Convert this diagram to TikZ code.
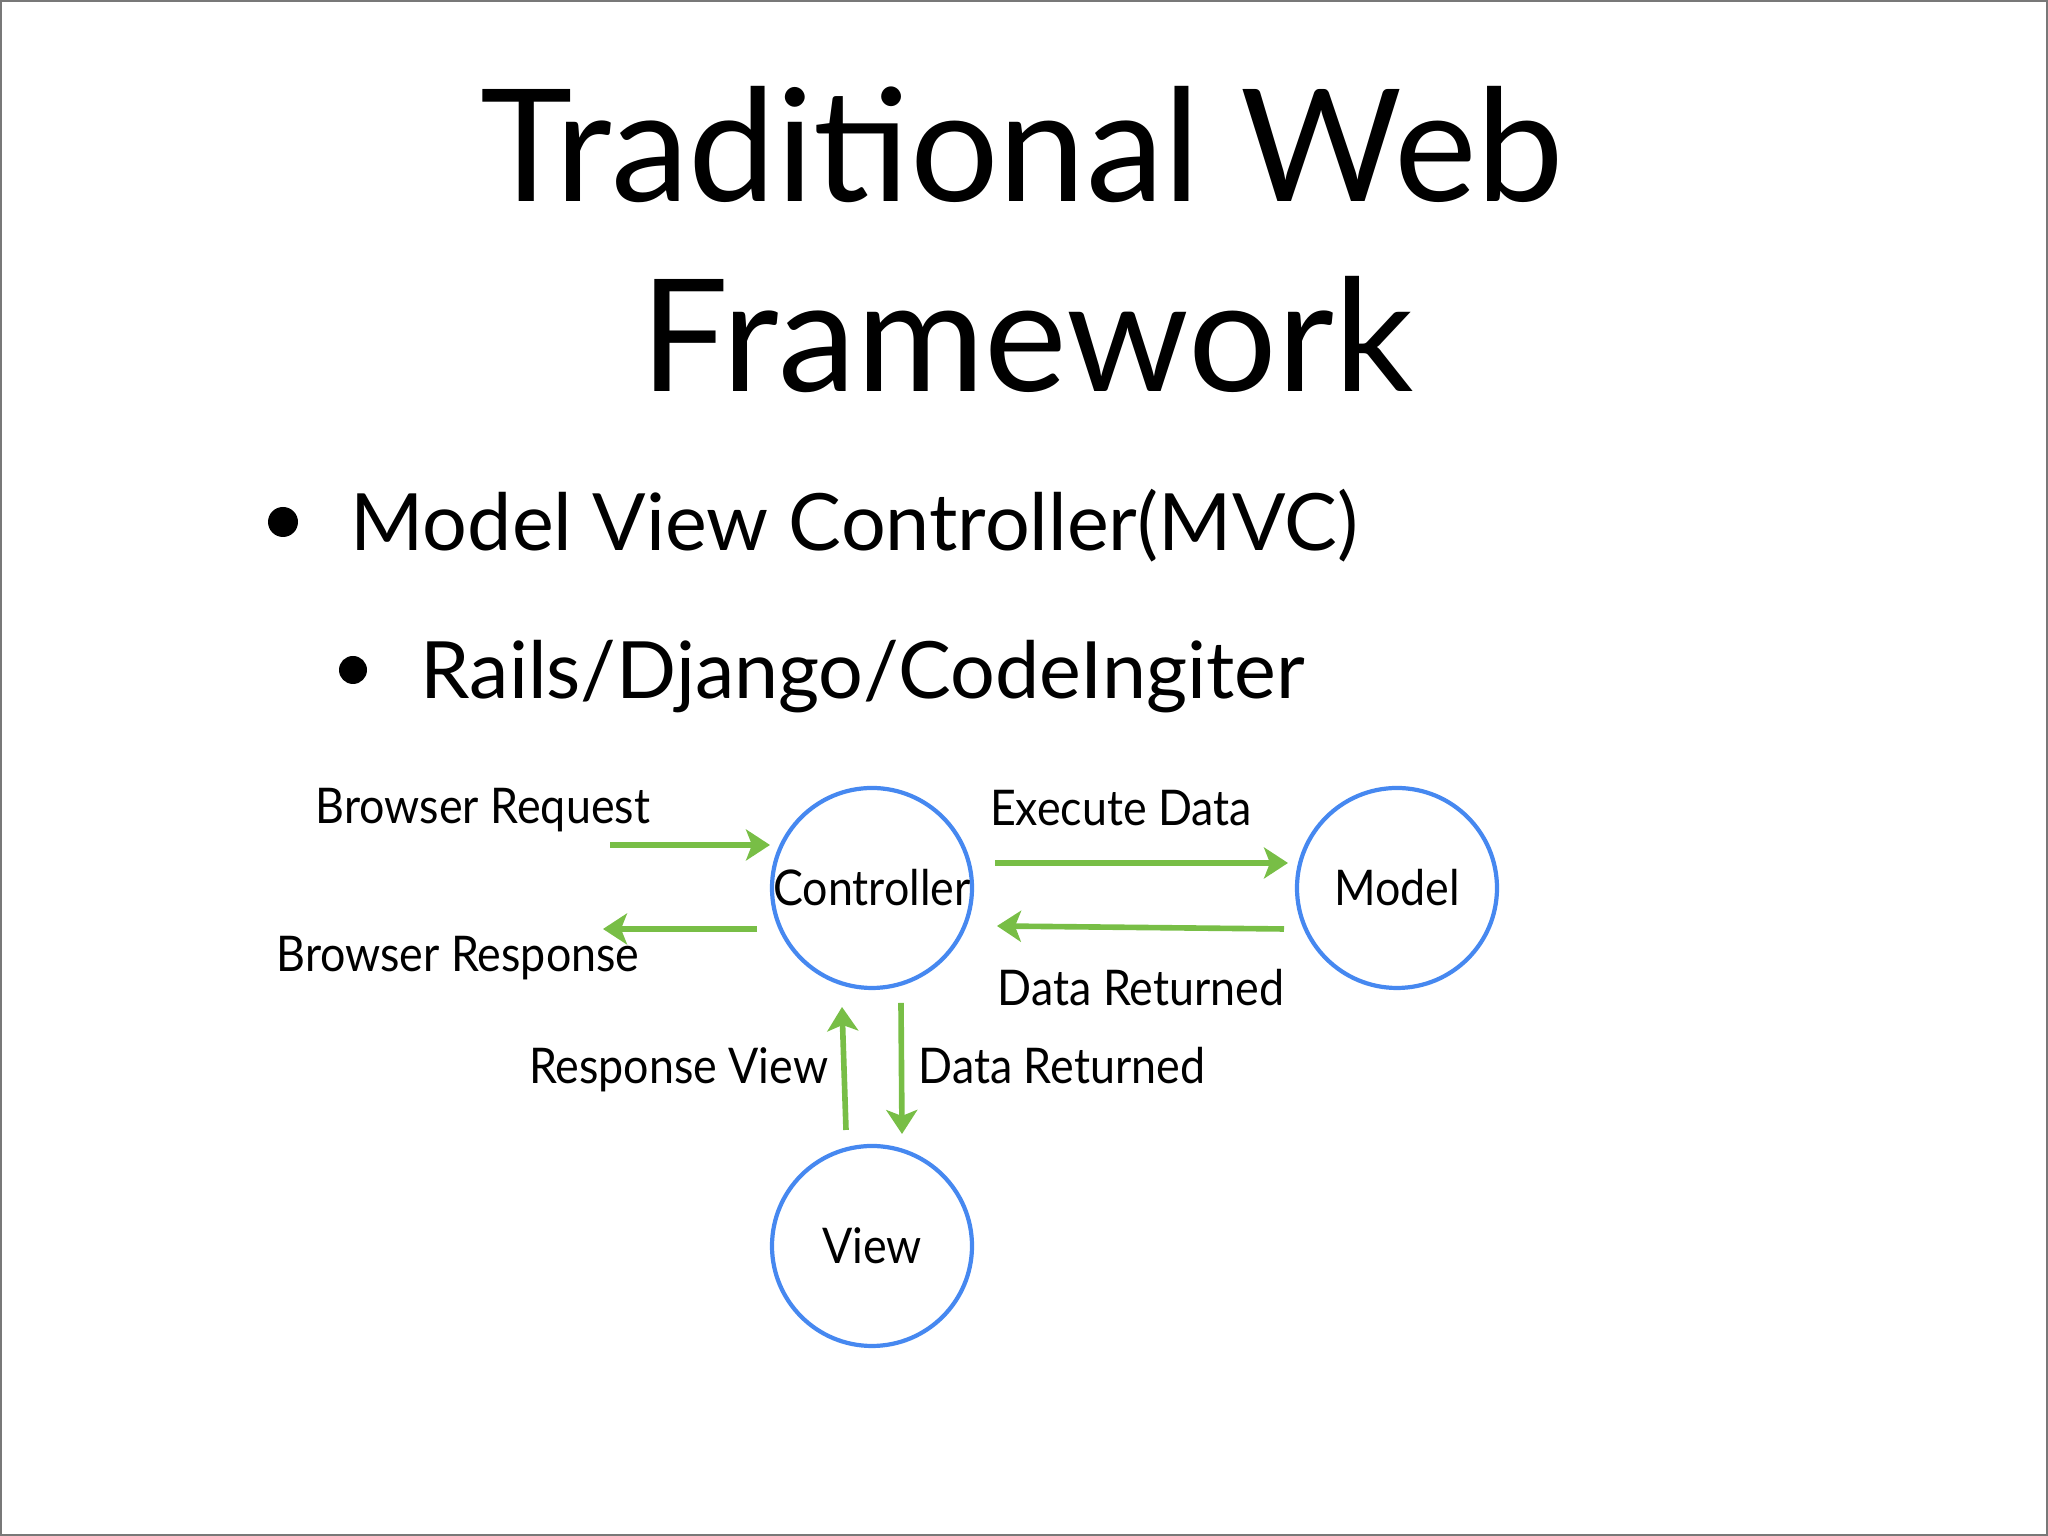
\documentclass[tikz,border=0pt]{standalone}
\usepackage{fontspec}
\setmainfont{Lato}
\newfontfamily\slimfont{Lato}[FakeStretch=0.91]
\usepackage{tkz-graph}
\usetikzlibrary{arrows.meta}
\definecolor{mvcblue}{RGB}{70,136,240}
\definecolor{mvcgreen}{RGB}{120,190,70}
\definecolor{slideframe}{RGB}{120,120,120}

\begin{document}
\begin{tikzpicture}
		\useasboundingbox (0,0) rectangle (20.48,15.36);
		\draw[slideframe, line width=0.6pt] (0.01,0.01) rectangle (20.47,15.35);
		\tikzset{TitleStyle/.style = {anchor=base, inner sep=0pt, font=\fontsize{44.5}{54}\selectfont},
			BulletStyle/.style = {anchor=base west, inner sep=0pt, font=\fontsize{22.5}{27}\selectfont},
			LabelText/.style = {anchor=base, inner sep=0pt, font=\slimfont\fontsize{14}{17}\selectfont}}
		\node[TitleStyle] (title) at (10.22,13.34) {Traditional Web};
		\node[TitleStyle] (title2) at (10.27,11.44) {Framework};
		\fill (2.83,10.14) circle (0.15);
		\node[BulletStyle] (mvc) at (3.50,9.85) {Model View Controller(MVC)};
		\fill (3.53,8.66) circle (0.14);
		\node[BulletStyle] (fw) at (4.20,8.37) {Rails/Django/CodeIngiter};
		% the three parts
		\SetGraphUnit{5.25}
		\GraphInit[vstyle=Normal]
		\tikzset{VertexStyle/.style = {circle, draw=mvcblue, line width=1.2pt, minimum size=2cm, inner sep=0pt, font=\slimfont\fontsize{14}{17}\selectfont},
			EdgeStyle/.style = {mvcgreen, line width=1.6pt, -{Stealth[length=2.4mm,width=3.1mm,inset=0.6mm]}}}
		\Vertex[x=8.72,y=6.48,L={\makebox[0pt]{Controller}}]{Controller}
		\EA(Controller){Model}
		\SO[unit=3.58](Controller){View}
		% flows
		\draw[EdgeStyle] ([shift={(-2.62,0.43)}]Controller.center) -- ([shift={(-1.02,0.43)}]Controller.center);
		\draw[EdgeStyle] ([shift={(-1.15,-0.41)}]Controller.center) -- ([shift={(-2.69,-0.41)}]Controller.center);
		\draw[EdgeStyle] ([shift={(1.23,0.25)}]Controller.center) -- ([shift={(-1.09,0.25)}]Model.center);
		\draw[EdgeStyle] ([shift={(-1.13,-0.41)}]Model.center) -- ([shift={(1.25,-0.38)}]Controller.center);
		\draw[EdgeStyle] ([shift={(-0.26,1.16)}]View.center) -- ([shift={(-0.30,-1.19)}]Controller.center);
		\draw[EdgeStyle] ([shift={(0.29,-1.15)}]Controller.center) -- ([shift={(0.30,1.12)}]View.center);
		\node[LabelText] (req) at (4.83,7.12) {Browser Request};
		\node[LabelText] (resp) at (4.58,5.64) {Browser Response};
		\node[LabelText] (exec) at (11.21,7.10) {Execute Data};
		\node[LabelText] (ret) at (11.41,5.30) {Data Returned};
		\node[LabelText, anchor=base east] (rview) at (8.29,4.52) {Response View};
		\node[LabelText, anchor=base west] (ret2) at (9.18,4.52) {Data Returned};
\end{tikzpicture}
\end{document}
